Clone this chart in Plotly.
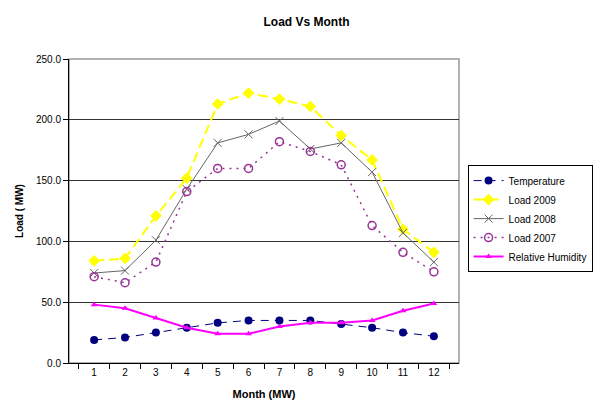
import plotly.graph_objects as go

months = ["1", "2", "3", "4", "5", "6", "7", "8", "9", "10", "11", "12"]
temperature = [19, 21, 25, 29, 33, 35, 35, 35, 32, 29, 25, 22]
load_2009 = [84, 86, 121, 152, 213, 222, 217, 211, 187, 167, 110, 91]
load_2008 = [74, 76, 101, 143, 181, 188, 199, 176, 181, 157, 107, 83]
load_2007 = [71, 66, 83, 141, 160, 160, 182, 174, 163, 113, 91, 75]
humidity = [48, 45, 37, 29, 24, 24, 30, 33, 33, 35, 43, 49]

FONT = "Liberation Sans, Arial, sans-serif"

fig = go.Figure()
fig.add_trace(go.Scatter(x=months, y=temperature, name="Temperature", mode="lines+markers",
                         line=dict(color="#000080", width=1, dash="8px,6px"),
                         marker=dict(symbol="circle", size=8, color="#000080")))
fig.add_trace(go.Scatter(x=months, y=load_2009, name="Load 2009", mode="lines+markers",
                         line=dict(color="#FFFF00", width=2, dash="10px,5px"),
                         marker=dict(symbol="diamond", size=9, color="#FFFF00")))
fig.add_trace(go.Scatter(x=months, y=load_2008, name="Load 2008", mode="lines+markers",
                         line=dict(color="#666666", width=1),
                         marker=dict(symbol="x-thin-open", size=8, line=dict(color="#666666", width=1))))
fig.add_trace(go.Scatter(x=months, y=load_2007, name="Load 2007", mode="lines+markers",
                         line=dict(color="#993399", width=1.5, dash="2px,5px"),
                         marker=dict(symbol="circle-open", size=8, color="#993399", line=dict(width=1.5))))
fig.add_trace(go.Scatter(x=months, y=humidity, name="Relative Humidity", mode="lines+markers",
                         line=dict(color="#FF00FF", width=2),
                         marker=dict(symbol="triangle-up", size=6, color="#FF00FF")))

fig.add_shape(type="rect", xref="paper", yref="paper", x0=0, x1=1, y0=0, y1=1,
              line=dict(color="#999999", width=1.5), layer="below")

fig.update_layout(
    width=597, height=392,
    margin=dict(l=61, r=138, t=51, b=37),
    paper_bgcolor="white", plot_bgcolor="white",
    font=dict(family=FONT, size=10, color="#000000"),
    title=dict(text="<b>Load Vs Month</b>", x=0.5, xanchor="center", y=0.966, yanchor="middle",
               font=dict(size=12, family=FONT)),
    showlegend=True,
    legend=dict(x=1.022, y=0.651, xanchor="left", yanchor="top",
                bordercolor="#000000", borderwidth=1, bgcolor="white",
                font=dict(size=10, family=FONT), tracegroupgap=0, itemwidth=30),
    xaxis=dict(type="category", tickson="boundaries", ticks="outside", ticklen=5,
               tickcolor="#000000", showline=True, linecolor="#000000", linewidth=1,
               showgrid=False, zeroline=False, automargin=False,
               title=dict(text="<b>Month (MW)</b>", standoff=13, font=dict(size=11))),
    yaxis=dict(range=[0, 250], dtick=50, tickformat=".1f", ticks="outside", ticklen=5,
               tickcolor="#000000", showline=True, linecolor="#000000", linewidth=1,
               showgrid=True, gridcolor="#333333", gridwidth=1, zeroline=False, automargin=False,
               title=dict(text="<b>Load ( MW)</b>", standoff=10, font=dict(size=10))),
)

fig.write_html("out.html")
